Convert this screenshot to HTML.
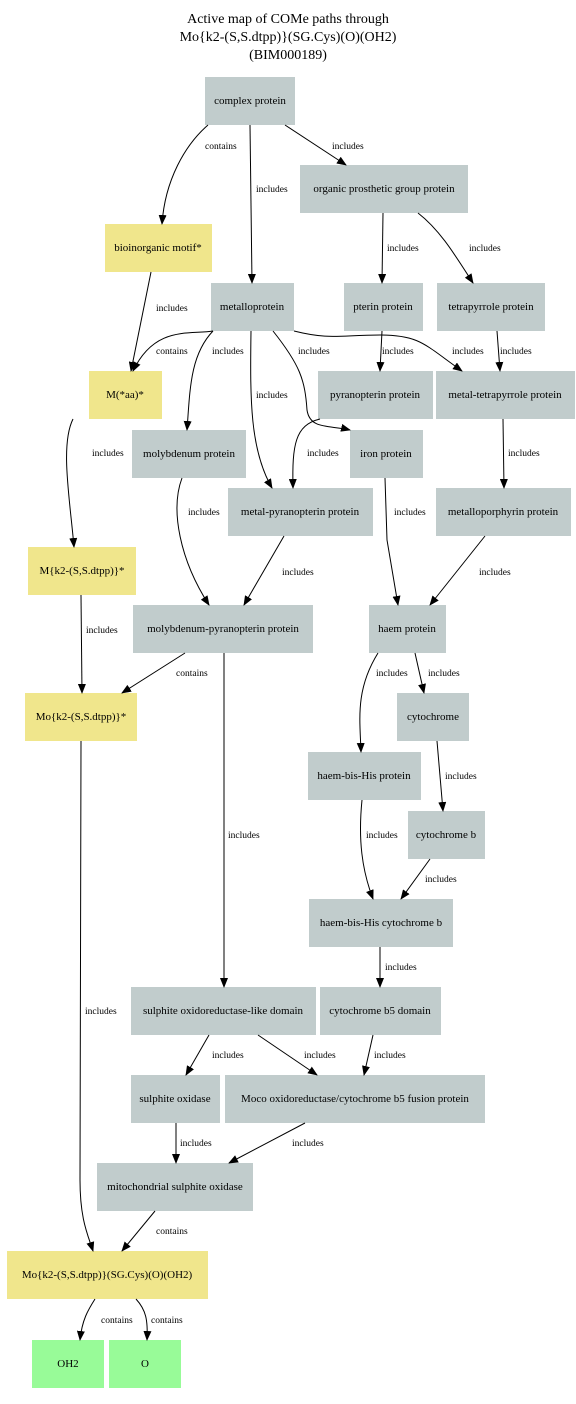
<!DOCTYPE html>
<html><head><meta charset="utf-8"><style>
body{margin:0;background:#fff;width:576px;height:1404px;overflow:hidden}
svg{display:block}
text{font-family:"Liberation Serif",serif}
.n{font-size:11px;text-anchor:middle;dominant-baseline:central}
.l{font-size:9.5px}
.e{fill:none;stroke:#000;stroke-width:1}
</style></head><body>
<svg width="576" height="1404" viewBox="0 0 576 1404">
<defs><marker id="a" markerWidth="10" markerHeight="8" refX="9" refY="4" orient="auto" markerUnits="userSpaceOnUse"><path d="M0,0L10,4L0,8z" fill="#000"/></marker></defs>
<g font-size="14" text-anchor="middle" font-family="Liberation Serif,serif">
<text x="288" y="23">Active map of COMe paths through</text>
<text x="288" y="41">Mo{k2-(S,S.dtpp)}(SG.Cys)(O)(OH2)</text>
<text x="288" y="59">(BIM000189)</text>
</g>
<g fill="#c1cccc">
<rect x="205" y="77" width="90" height="48"/>
<rect x="300" y="165" width="168" height="48"/>
<rect x="211" y="283" width="83" height="48"/>
<rect x="344" y="283" width="79" height="48"/>
<rect x="437" y="283" width="108" height="48"/>
<rect x="318" y="371" width="115" height="48"/>
<rect x="436" y="371" width="139" height="48"/>
<rect x="132" y="430" width="114" height="48"/>
<rect x="350" y="430" width="73" height="48"/>
<rect x="228" y="488" width="145" height="48"/>
<rect x="436" y="488" width="135" height="48"/>
<rect x="133" y="605" width="180" height="48"/>
<rect x="369" y="605" width="77" height="48"/>
<rect x="397" y="693" width="72" height="48"/>
<rect x="308" y="752" width="113" height="48"/>
<rect x="408" y="811" width="77" height="48"/>
<rect x="309" y="899" width="144" height="48"/>
<rect x="131" y="987" width="185" height="48"/>
<rect x="320" y="987" width="121" height="48"/>
<rect x="131" y="1075" width="89" height="48"/>
<rect x="225" y="1075" width="260" height="48"/>
<rect x="97" y="1163" width="156" height="48"/>
</g>
<g fill="#f0e68c">
<rect x="105" y="224" width="107" height="48"/>
<rect x="89" y="371" width="73" height="48"/>
<rect x="28" y="547" width="108" height="48"/>
<rect x="25" y="693" width="112" height="48"/>
<rect x="7" y="1251" width="201" height="48"/>
</g>
<g fill="#98fb98">
<rect x="32" y="1340" width="72" height="48"/>
<rect x="109" y="1340" width="72" height="48"/>
</g>
<g class="n">
<text x="250" y="101">complex protein</text>
<text x="384" y="189">organic prosthetic group protein</text>
<text x="158" y="248">bioinorganic motif*</text>
<text x="252" y="307">metalloprotein</text>
<text x="383" y="307">pterin protein</text>
<text x="491" y="307">tetrapyrrole protein</text>
<text x="125" y="395">M(*aa)*</text>
<text x="375" y="395">pyranopterin protein</text>
<text x="505" y="395">metal-tetrapyrrole protein</text>
<text x="189" y="454">molybdenum protein</text>
<text x="386" y="454">iron protein</text>
<text x="300" y="512">metal-pyranopterin protein</text>
<text x="503" y="512">metalloporphyrin protein</text>
<text x="82" y="571">M{k2-(S,S.dtpp)}*</text>
<text x="223" y="629">molybdenum-pyranopterin protein</text>
<text x="407" y="629">haem protein</text>
<text x="81" y="717">Mo{k2-(S,S.dtpp)}*</text>
<text x="433" y="717">cytochrome</text>
<text x="364" y="776">haem-bis-His protein</text>
<text x="446" y="835">cytochrome b</text>
<text x="381" y="923">haem-bis-His cytochrome b</text>
<text x="223" y="1011">sulphite oxidoreductase-like domain</text>
<text x="380" y="1011">cytochrome b5 domain</text>
<text x="175" y="1099">sulphite oxidase</text>
<text x="355" y="1099">Moco oxidoreductase/cytochrome b5 fusion protein</text>
<text x="175" y="1187">mitochondrial sulphite oxidase</text>
<text x="107" y="1275">Mo{k2-(S,S.dtpp)}(SG.Cys)(O)(OH2)</text>
<text x="68" y="1364">OH2</text>
<text x="145" y="1364">O</text>
</g>
<g class="e" marker-end="url(#a)">
<path d="M208,125C185,145 165,180 162,224"/>
<path d="M250,125L252,283"/>
<path d="M285,125L346,165"/>
<path d="M383,213L382,283"/>
<path d="M418,213C440,230 455,255 473,283"/>
<path d="M151,272L131,371"/>
<path d="M213,331C190,335 155,325 133,371"/>
<path d="M213,331C190,355 190,390 187,430"/>
<path d="M251,331C250,400 250,450 272,488"/>
<path d="M273,331C300,365 305,380 307,410C310,430 330,425 350,430"/>
<path d="M294,331C330,340 340,335 380,335C420,335 425,345 462,371"/>
<path d="M382,331L380,371"/>
<path d="M497,331L500,371"/>
<path d="M320,419C295,425 292,445 293,488"/>
<path d="M503,419L504,488"/>
<path d="M73,419C60,445 70,500 74,547"/>
<path d="M182,478C170,510 180,560 209,605"/>
<path d="M284,536L244,605"/>
<path d="M385,478L387,540L398,605"/>
<path d="M485,536L430,605"/>
<path d="M81,595L82,693"/>
<path d="M185,653L122,693"/>
<path d="M378,653C355,690 360,720 361,752"/>
<path d="M415,653L424,693"/>
<path d="M437,741L443,811"/>
<path d="M362,800C358,840 362,870 373,899"/>
<path d="M430,859L401,899"/>
<path d="M380,947L380,987"/>
<path d="M224,653L224,987"/>
<path d="M81,741L80,1180C80,1220 88,1235 93,1251"/>
<path d="M209,1035L186,1075"/>
<path d="M258,1035L317,1075"/>
<path d="M373,1035L364,1075"/>
<path d="M176,1123L176,1163"/>
<path d="M305,1123L229,1163"/>
<path d="M155,1211L122,1251"/>
<path d="M95,1299C88,1310 82,1320 80,1340"/>
<path d="M136,1299C146,1310 148,1320 147,1340"/>
</g>
<g class="l">
<text x="205" y="149">contains</text>
<text x="256" y="192">includes</text>
<text x="332" y="149">includes</text>
<text x="387" y="251">includes</text>
<text x="469" y="251">includes</text>
<text x="156" y="311">includes</text>
<text x="156" y="354">contains</text>
<text x="212" y="354">includes</text>
<text x="298" y="354">includes</text>
<text x="382" y="354">includes</text>
<text x="452" y="354">includes</text>
<text x="500" y="354">includes</text>
<text x="256" y="398">includes</text>
<text x="92" y="456">includes</text>
<text x="307" y="456">includes</text>
<text x="508" y="456">includes</text>
<text x="188" y="515">includes</text>
<text x="394" y="515">includes</text>
<text x="282" y="575">includes</text>
<text x="479" y="575">includes</text>
<text x="86" y="633">includes</text>
<text x="176" y="676">contains</text>
<text x="376" y="676">includes</text>
<text x="428" y="676">includes</text>
<text x="445" y="779">includes</text>
<text x="228" y="838">includes</text>
<text x="366" y="838">includes</text>
<text x="425" y="882">includes</text>
<text x="385" y="970">includes</text>
<text x="85" y="1014">includes</text>
<text x="212" y="1058">includes</text>
<text x="304" y="1058">includes</text>
<text x="374" y="1058">includes</text>
<text x="180" y="1146">includes</text>
<text x="292" y="1146">includes</text>
<text x="156" y="1234">contains</text>
<text x="101" y="1323">contains</text>
<text x="151" y="1323">contains</text>
</g>
</svg>
</body></html>
